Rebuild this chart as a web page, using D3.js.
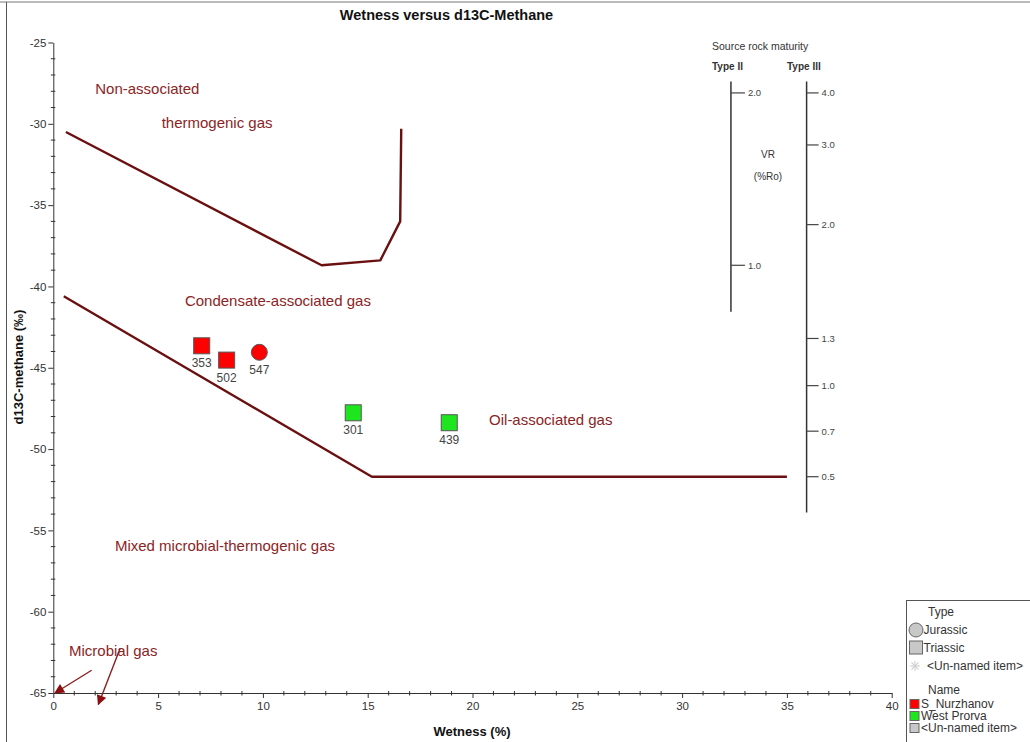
<!DOCTYPE html>
<html>
<head>
<meta charset="utf-8">
<script src="https://cdn.jsdelivr.net/npm/d3@7/dist/d3.min.js"></script>
<style>
  html, body { margin: 0; padding: 0; background: #fff; }
  svg { display: block; font-family: "Liberation Sans", Arial, sans-serif; }
</style>
</head>
<body>
<div id="chart"></div>
<script>
// ---------------- DATA ----------------
const xTickValues = [0, 5, 10, 15, 20, 25, 30, 35, 40];
const yTickValues = [-25, -30, -35, -40, -45, -50, -55, -60, -65];

const sampleIds   = ["353", "502", "547", "301", "439"];
const sampleWet   = [7.08, 8.27, 9.83, 14.31, 18.89];
const sampleD13C  = [-43.65, -44.53, -44.05, -47.77, -48.38];
const sampleType  = ["Triassic", "Triassic", "Jurassic", "Triassic", "Triassic"];
const sampleName  = ["S_Nurzhanov", "S_Nurzhanov", "S_Nurzhanov", "West Prorva", "West Prorva"];

const upperBoundWet  = [0.6, 12.8, 15.6, 16.55, 16.6];
const upperBoundD13C = [-30.5, -38.7, -38.4, -36.0, -30.3];
const lowerBoundWet  = [0.5, 15.2, 35.0];
const lowerBoundD13C = [-40.6, -51.7, -51.7];

const regionLabels = ["Non-associated", "thermogenic gas", "Condensate-associated gas",
                      "Oil-associated gas", "Mixed microbial-thermogenic gas", "Microbial gas"];
const regionWet  = [2.0, 5.17, 6.28, 20.79, 2.94, 0.75];
const regionD13C = [-27.8, -29.95, -40.84, -48.2, -55.9, -62.4];

// microbial gas arrows (from -> to), in data units
const arrowFromWet  = [1.83, 3.19];
const arrowFromD13C = [-63.6, -62.25];
const arrowToWet    = [0.08, 2.15];
const arrowToD13C   = [-65.0, -65.7];

// source rock maturity scales (VR %Ro), tick positions in d13C-equivalents
const typeIILabels  = ["2.0", "1.0"];
const typeIIPos     = [-28.1, -38.7];
const typeIIRange   = [-27.4, -41.55];
const typeIIILabels = ["4.0", "3.0", "2.0", "1.3", "1.0", "0.7", "0.5"];
const typeIIIPos    = [-28.1, -31.3, -36.2, -43.2, -46.1, -48.9, -51.7];
const typeIIIRange  = [-27.4, -53.9];
const scaleWetPos   = [32.33, 35.94];

const legendTypes = ["Jurassic", "Triassic", "<Un-named item>"];
const legendNames = ["S_Nurzhanov", "West Prorva", "<Un-named item>"];
const nameColors  = ["#ff0000", "#1ee61e", "#c8c8c8"];

// ---------------- LAYOUT ----------------
const W = 1030, H = 742;
const plot = { left: 53.3, right: 891.7, top: 42.5, bottom: 693 };
const lineColor = "#6a1010";
const textRed = "#8b2525";

const svg = d3.select("#chart").append("svg").attr("width", W).attr("height", H);

svg.append("defs").append("marker")
  .attr("id", "ah").attr("viewBox", "0 0 10 10")
  .attr("refX", 9).attr("refY", 5)
  .attr("markerWidth", 12).attr("markerHeight", 10)
  .attr("markerUnits", "userSpaceOnUse")
  .attr("orient", "auto")
  .append("path").attr("d", "M0,0 L10,5 L0,10 z").attr("fill", "#8b0f0f");

// outer frame
svg.append("line").attr("x1", 0).attr("x2", W).attr("y1", 2).attr("y2", 2).attr("stroke", "#777").attr("stroke-width", 1);
svg.append("line").attr("x1", 6.5).attr("x2", 6.5).attr("y1", 2).attr("y2", H).attr("stroke", "#555").attr("stroke-width", 1);

const x = d3.scaleLinear().domain([0, 40]).range([plot.left, plot.right]);
const y = d3.scaleLinear().domain([-25, -65]).range([plot.top, plot.bottom]);

// title
svg.append("text").attr("x", 446.5).attr("y", 15).attr("text-anchor", "middle")
  .attr("dominant-baseline", "central").attr("font-weight", "bold").attr("font-size", 14.5)
  .attr("fill", "#111").text("Wetness versus d13C-Methane");

// axes
const fmt = d => String(d);
const xAxis = d3.axisBottom(x).tickValues(xTickValues).tickFormat(fmt).tickSize(5).tickSizeOuter(0).tickPadding(4);
const gx = svg.append("g").attr("transform", `translate(0,${plot.bottom})`).call(xAxis);
const yAxis = d3.axisLeft(y).tickValues(yTickValues).tickFormat(fmt).tickSize(5).tickSizeOuter(0).tickPadding(2);
const gy = svg.append("g").attr("transform", `translate(${plot.left},0)`).call(yAxis);
[gx, gy].forEach(g => {
  g.select(".domain").attr("stroke", "#333");
  g.selectAll(".tick line").attr("stroke", "#333");
  g.selectAll(".tick text").attr("font-size", 11.5).attr("fill", "#333")
    .attr("font-family", "'Liberation Sans', Arial, sans-serif");
});
// minor ticks
const xMinor = d3.range(0, 41, 1).filter(v => v % 5 !== 0);
svg.append("g").selectAll("line").data(xMinor).join("line")
  .attr("x1", d => x(d)).attr("x2", d => x(d))
  .attr("y1", plot.bottom - 2).attr("y2", plot.bottom + 2.5).attr("stroke", "#333");
const yMinor = d3.range(-25, -66, -1).filter(v => v % 5 !== 0);
svg.append("g").selectAll("line").data(yMinor).join("line")
  .attr("y1", d => y(d)).attr("y2", d => y(d))
  .attr("x1", plot.left - 2.5).attr("x2", plot.left + 2).attr("stroke", "#333");

// axis titles
svg.append("text").attr("x", 472).attr("y", 731).attr("text-anchor", "middle")
  .attr("dominant-baseline", "central").attr("font-weight", "bold").attr("font-size", 13)
  .attr("fill", "#111").text("Wetness (%)");
svg.append("text").attr("transform", "translate(18,367) rotate(-90)")
  .attr("text-anchor", "middle").attr("dominant-baseline", "central")
  .attr("font-weight", "bold").attr("font-size", 13).attr("fill", "#111")
  .text("d13C-methane (‰)");

// boundary lines
const lineGen = d3.line().x(d => x(d[0])).y(d => y(d[1]));
[[upperBoundWet, upperBoundD13C], [lowerBoundWet, lowerBoundD13C]].forEach(([xs, ys]) => {
  svg.append("path").attr("d", lineGen(xs.map((v, i) => [v, ys[i]])))
    .attr("fill", "none").attr("stroke", lineColor).attr("stroke-width", 2.4)
    .attr("stroke-linejoin", "round");
});

// region labels
svg.append("g").selectAll("text").data(regionLabels).join("text")
  .attr("x", (d, i) => x(regionWet[i])).attr("y", (d, i) => y(regionD13C[i]))
  .attr("dominant-baseline", "central").attr("font-size", 15).attr("fill", textRed)
  .text(d => d);

// arrows
svg.append("g").selectAll("line").data(arrowFromWet).join("line")
  .attr("x1", (d, i) => x(arrowFromWet[i])).attr("y1", (d, i) => y(arrowFromD13C[i]))
  .attr("x2", (d, i) => x(arrowToWet[i])).attr("y2", (d, i) => y(arrowToD13C[i]))
  .attr("stroke", "#8b1f1f").attr("stroke-width", 1.4).attr("marker-end", "url(#ah)");

// maturity scales
const mat = svg.append("g");
mat.append("text").attr("x", 712).attr("y", 46).attr("dominant-baseline", "central")
  .attr("font-size", 10.5).attr("fill", "#333").text("Source rock maturity");
mat.append("text").attr("x", 712).attr("y", 66).attr("dominant-baseline", "central")
  .attr("font-size", 10).attr("font-weight", "bold").attr("fill", "#333").text("Type II");
mat.append("text").attr("x", 787).attr("y", 66).attr("dominant-baseline", "central")
  .attr("font-size", 10).attr("font-weight", "bold").attr("fill", "#333").text("Type III");
mat.append("text").attr("x", 768).attr("y", 154).attr("text-anchor", "middle").attr("dominant-baseline", "central")
  .attr("font-size", 10).attr("fill", "#333").text("VR");
mat.append("text").attr("x", 768).attr("y", 176).attr("text-anchor", "middle").attr("dominant-baseline", "central")
  .attr("font-size", 10).attr("fill", "#333").text("(%Ro)");

function drawScale(xw, range, pos, labels, tickLen) {
  const xp = x(xw);
  mat.append("line").attr("x1", xp).attr("x2", xp).attr("y1", y(range[0])).attr("y2", y(range[1]))
    .attr("stroke", "#333").attr("stroke-width", 1.5);
  const g = mat.append("g").selectAll("g").data(labels).join("g");
  g.append("line").attr("x1", xp).attr("x2", xp + tickLen)
    .attr("y1", (d, i) => y(pos[i])).attr("y2", (d, i) => y(pos[i]))
    .attr("stroke", "#444").attr("stroke-width", 1.2);
  g.append("text").attr("x", xp + tickLen + 3).attr("y", (d, i) => y(pos[i]))
    .attr("dominant-baseline", "central").attr("font-size", 9.5).attr("fill", "#444").text(d => d);
}
drawScale(scaleWetPos[0], typeIIRange, typeIIPos, typeIILabels, 14);
drawScale(scaleWetPos[1], typeIIIRange, typeIIIPos, typeIIILabels, 12);

// data points
const pts = svg.append("g").selectAll("g").data(sampleIds).join("g")
  .attr("transform", (d, i) => `translate(${x(sampleWet[i])},${y(sampleD13C[i])})`);
pts.each(function(d, i) {
  const g = d3.select(this);
  const col = nameColors[legendNames.indexOf(sampleName[i])];
  if (sampleType[i] === "Jurassic") {
    g.append("circle").attr("r", 8).attr("fill", col).attr("stroke", "#555").attr("stroke-width", 1);
  } else {
    g.append("rect").attr("x", -8).attr("y", -8).attr("width", 16).attr("height", 16)
      .attr("fill", col).attr("stroke", "#555").attr("stroke-width", 1);
  }
  g.append("text").attr("y", 17.5).attr("text-anchor", "middle").attr("dominant-baseline", "central")
    .attr("font-size", 12).attr("fill", "#444").text(d);
});

// legend
const lg = svg.append("g");
lg.append("rect").attr("x", 906.5).attr("y", 600.5).attr("width", 140).attr("height", 160)
  .attr("fill", "#fff").attr("stroke", "#555").attr("stroke-width", 1);
lg.append("text").attr("x", 928).attr("y", 612).attr("dominant-baseline", "central")
  .attr("font-size", 12).attr("fill", "#333").text("Type");
const typeY = [630, 648, 666];
lg.append("circle").attr("cx", 916).attr("cy", typeY[0]).attr("r", 7)
  .attr("fill", "#c8c8c8").attr("stroke", "#666");
lg.append("rect").attr("x", 909.5).attr("y", typeY[1] - 7).attr("width", 13).attr("height", 13)
  .attr("fill", "#c8c8c8").attr("stroke", "#666");
// asterisk
const ast = lg.append("g").attr("transform", `translate(915,${typeY[2]})`);
[0, 45, 90, 135].forEach(a => {
  ast.append("line").attr("x1", -5).attr("x2", 5).attr("y1", 0).attr("y2", 0)
    .attr("transform", `rotate(${a})`).attr("stroke", "#ccc").attr("stroke-width", 1);
});
lg.append("g").selectAll("text").data(legendTypes).join("text")
  .attr("x", (d, i) => i === 2 ? 927 : 923.5).attr("y", (d, i) => typeY[i])
  .attr("dominant-baseline", "central").attr("font-size", 12).attr("fill", "#333").text(d => d);
lg.append("text").attr("x", 928).attr("y", 690).attr("dominant-baseline", "central")
  .attr("font-size", 12).attr("fill", "#333").text("Name");
const nameY = [704, 716, 728];
lg.append("g").selectAll("rect").data(legendNames).join("rect")
  .attr("x", 910).attr("y", (d, i) => nameY[i] - 4.5).attr("width", 9).attr("height", 9)
  .attr("fill", (d, i) => nameColors[i]).attr("stroke", "#666");
lg.append("g").selectAll("text").data(legendNames).join("text")
  .attr("x", 921).attr("y", (d, i) => nameY[i])
  .attr("dominant-baseline", "central").attr("font-size", 12).attr("fill", "#333").text(d => d);
</script>
</body>
</html>
